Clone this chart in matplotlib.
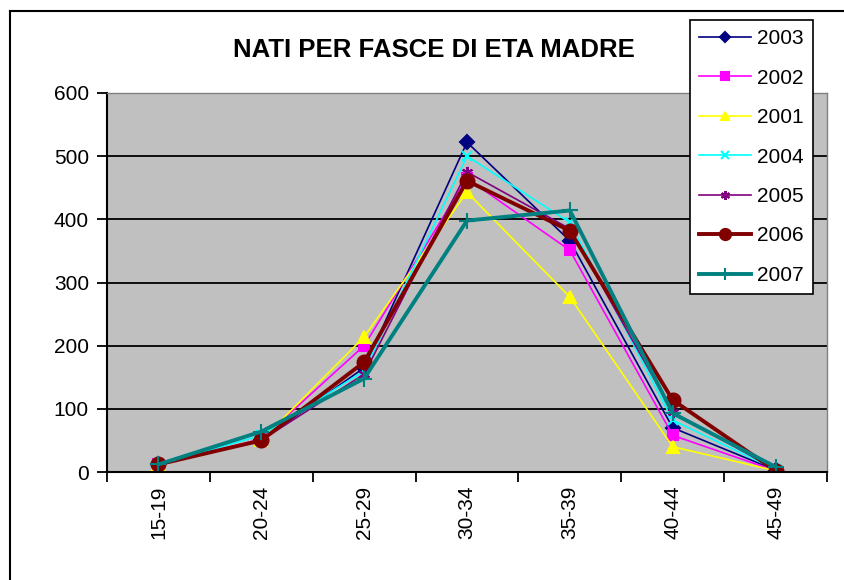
import numpy as np
import matplotlib.pyplot as plt
from matplotlib.lines import Line2D

# age groups of the mother
fasce = ['15-19', '20-24', '25-29', '30-34', '35-39', '40-44', '45-49']

# births per year
nati_2003 = [12, 50, 165, 522, 366, 70, 3]
nati_2002 = [12, 52, 200, 465, 351, 58, 2]
nati_2001 = [12, 50, 214, 443, 277, 40, 2]
nati_2004 = [12, 58, 160, 500, 395, 82, 4]
nati_2005 = [12, 50, 155, 475, 385, 95, 4]
nati_2006 = [12, 50, 174, 461, 382, 114, 2]
nati_2007 = [12, 64, 148, 398, 414, 93, 8]

anni = ['2003', '2002', '2001', '2004', '2005', '2006', '2007']
serie = [nati_2003, nati_2002, nati_2001, nati_2004, nati_2005, nati_2006, nati_2007]
colori = ['#000080', '#FF00FF', '#FFFF00', '#00FFFF', '#800080', '#800000', '#008080']
marker = ['D', 's', '^', 'x', (6, 2, 0), 'o', '+']
msize = [7, 7, 8, 7, 8, 10, 11]
lw = [1.2, 1.2, 1.2, 1.2, 1.2, 2.8, 2.8]

plt.rcParams['font.family'] = ['Liberation Sans', 'DejaVu Sans']

fig = plt.figure(figsize=(8.44, 5.8), dpi=100)
ax = fig.add_axes([107 / 844, 1 - 472 / 580, 720 / 844, 379 / 580])
ax.set_facecolor('#C0C0C0')

x = np.arange(len(fasce))
for anno, vals, c, m, ms, w in zip(anni, serie, colori, marker, msize, lw):
    ax.plot(x, vals, color=c, marker=m, markersize=ms, linewidth=w,
            markeredgecolor=c, markeredgewidth=1.5, label=anno)

ax.set_xlim(-0.5, len(fasce) - 0.5)
ax.set_ylim(0, 600)
ax.set_yticks(range(0, 601, 100))
ax.yaxis.grid(True, color='black', linewidth=1.3)
ax.set_axisbelow(True)

# ticks between categories, labels centred
ax.set_xticks(np.arange(-0.5, len(fasce), 1.0))
ax.set_xticklabels([])
ax.set_xticks(x, minor=True)
ax.set_xticklabels(fasce, minor=True, rotation=90, fontsize=15)
ax.tick_params(axis='x', which='minor', length=0, pad=10)
ax.tick_params(axis='x', which='major', length=7, width=1.3, direction='out')
ax.tick_params(axis='y', length=7, width=1.3, labelsize=15, pad=6)

for s in ['left', 'bottom']:
    ax.spines[s].set_linewidth(1.5)
    ax.spines[s].set_color('black')
for s in ['top', 'right']:
    ax.spines[s].set_color('#808080')
    ax.spines[s].set_linewidth(1.0)

fig.text(434 / 844, 1 - 50 / 580, 'NATI PER FASCE DI ETA MADRE', ha='center', va='center',
         fontsize=18.5, fontweight='bold')

leg = fig.legend(loc='upper left', bbox_to_anchor=(690 / 844, 1 - 20 / 580), fontsize=15,
                 frameon=True, fancybox=False, framealpha=1, edgecolor='black',
                 handlelength=2.5, labelspacing=0.98, borderpad=0.45, handletextpad=0.25,
                 borderaxespad=0, markerscale=0.8)
leg.get_frame().set_linewidth(1.2)

# chart area border (left and top edges are visible)
fig.add_artist(Line2D([10 / 844, 10 / 844], [0, 1 - 11 / 580], color='black', linewidth=1.5))
fig.add_artist(Line2D([10 / 844, 1], [1 - 11 / 580, 1 - 11 / 580], color='black', linewidth=1.5))

fig.savefig('out.png', dpi=100)
